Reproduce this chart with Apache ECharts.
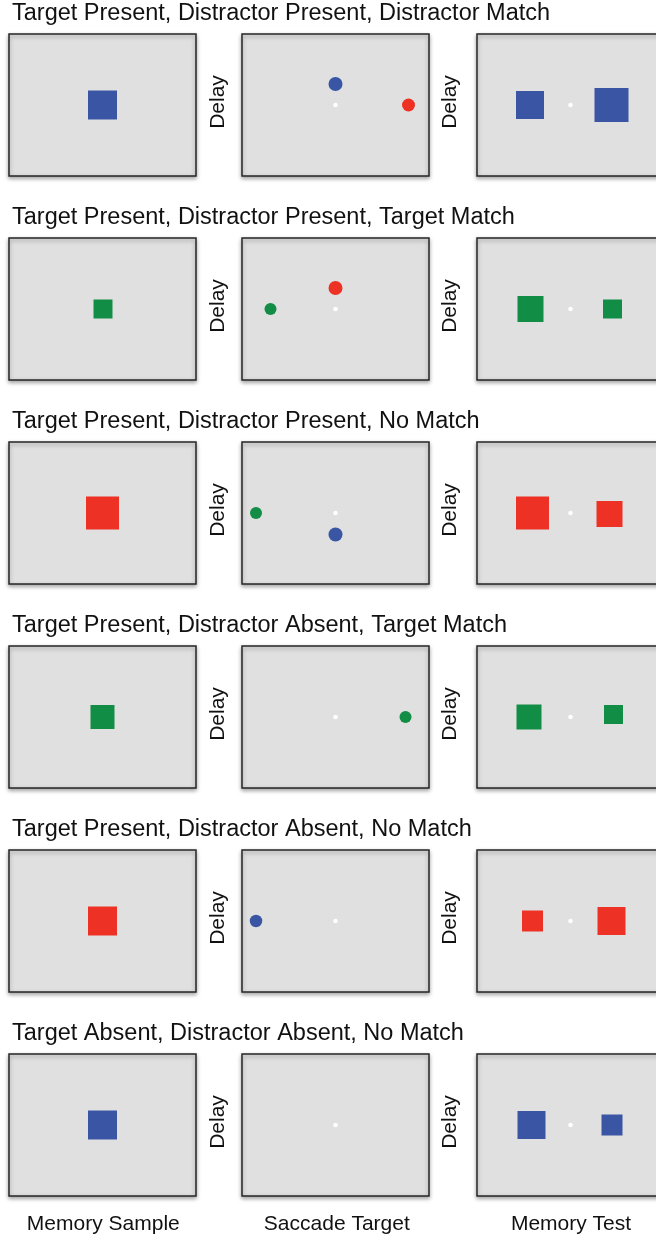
<!DOCTYPE html>
<html>
<head>
<meta charset="utf-8">
<title>Task conditions</title>
<script src="https://cdn.jsdelivr.net/npm/echarts@6/dist/echarts.min.js"></script>
<style>
  html, body { margin: 0; padding: 0; background: #fff; }
  #chart { width: 656px; height: 1241px; }
</style>
</head>
<body>
<div id="chart"></div>
<script>
// one row per trial condition
const conditions = [
  'Target Present, Distractor Present, Distractor Match',
  'Target Present, Distractor Present, Target Match',
  'Target Present, Distractor Present, No Match',
  'Target Present, Distractor Absent, Target Match',
  'Target Present, Distractor Absent, No Match',
  'Target Absent, Distractor Absent, No Match'
];
const epochs = ['Memory Sample', 'Saccade Target', 'Memory Test'];
const delayLabel = 'Delay';

// stimuli: [x, y, size, colour], x/y = offset from screen centre (y up)
const sampleStim = [
  [[0, 0, 29, 'blue']],
  [[0.5, 0, 19, 'green']],
  [[0, 0, 33, 'red']],
  [[0, 0, 24, 'green']],
  [[0, 0, 29, 'red']],
  [[0, 0, 29, 'blue']]
];
const saccadeStim = [
  [[0, 21, 14, 'blue'], [73, 0, 13, 'red']],
  [[-65, 0, 12, 'green'], [0, 21, 14, 'red']],
  [[-79.5, 0, 12, 'green'], [0, -21.5, 14, 'blue']],
  [[70, 0, 12, 'green']],
  [[-79.5, 0, 12.5, 'blue']],
  []
];
const testStim = [
  [[-40.5, 0, 28, 'blue'], [41, 0, 34, 'blue']],
  [[-40, 0, 26, 'green'], [42, 0, 19, 'green']],
  [[-38, 0, 33, 'red'], [39, -1, 26, 'red']],
  [[-41.5, 0, 25, 'green'], [43, 2.5, 19, 'green']],
  [[-38, 0, 21, 'red'], [41, 0, 28, 'red']],
  [[-39, 0, 28, 'blue'], [41.5, 0, 21, 'blue']]
];
const fixation = [0, 0];

const palette = { blue: '#3b55a5', green: '#128d45', red: '#ee3125' };
const font = '"Liberation Sans", Arial, sans-serif';

const panelLeft = [9, 242, 477];
const panelW = 187, panelH = 142;
const rowTop = 34, rowStep = 204;

const chart = echarts.init(document.getElementById('chart'));

const grids = [], xAxes = [], yAxes = [], series = [], texts = [];

const panels = [sampleStim, saccadeStim, testStim];

conditions.forEach((cond, r) => {
  const top = rowTop + r * rowStep;

  texts.push({
    type: 'text', x: 12, y: top - 20,
    style: { text: cond, font: '23.5px ' + font, fill: '#111', align: 'left', verticalAlign: 'middle' }
  });

  [218.5, 450.5].forEach(x => {
    texts.push({
      type: 'text', x: x, y: top + panelH / 2 - 3, rotation: Math.PI / 2,
      style: { text: delayLabel, font: '21px ' + font, fill: '#111', align: 'center', verticalAlign: 'middle' }
    });
  });

  panels.forEach((stim, c) => {
    const idx = grids.length;
    grids.push({
      show: true,
      outerBoundsMode: 'none', // last panel runs off the right edge
      left: panelLeft[c], top: top, width: panelW, height: panelH,
      backgroundColor: '#dfe0df',
      borderColor: '#262626',
      borderWidth: 1.5,
      shadowColor: 'rgba(0,0,0,0.35)',
      shadowBlur: 4,
      shadowOffsetY: 2
    });
    xAxes.push({ gridIndex: idx, type: 'value', min: -panelW / 2, max: panelW / 2, show: false });
    yAxes.push({ gridIndex: idx, type: 'value', min: -panelH / 2, max: panelH / 2, show: false });

    const data = [];
    if (c > 0) {
      data.push({ value: fixation, symbol: 'circle', symbolSize: 4.5, itemStyle: { color: '#ffffff', opacity: 1 } });
    }
    stim[r].forEach(s => {
      data.push({
        value: [s[0], s[1]],
        symbol: c === 1 ? 'circle' : 'rect',
        symbolSize: s[2],
        itemStyle: { color: palette[s[3]], opacity: 1 }
      });
    });
    series.push({
      type: 'scatter', xAxisIndex: idx, yAxisIndex: idx,
      data: data, silent: true, clip: false
    });
  });
});

[103.3, 336.8, 571].forEach((x, i) => {
  texts.push({
    type: 'text', x: x, y: 1224,
    style: { text: epochs[i], font: '21px ' + font, fill: '#111', align: 'center', verticalAlign: 'middle' }
  });
});

chart.setOption({
  animation: false,
  grid: grids,
  xAxis: xAxes,
  yAxis: yAxes,
  series: series,
  graphic: { elements: texts }
});
</script>
</body>
</html>
